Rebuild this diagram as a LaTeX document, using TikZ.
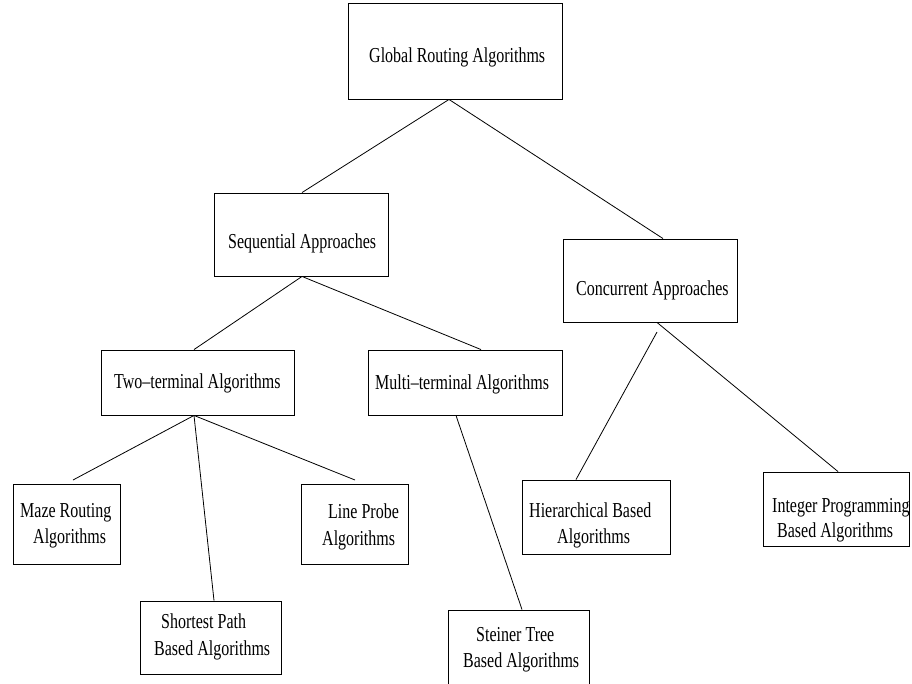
\documentclass[tikz,border=0pt]{standalone}
\usepackage{fontspec}
\setmainfont{Liberation Serif}
\usepackage{graphicx}
% vertically stretched text, as in the printed chart
\newcommand\tall[1]{\scalebox{1}[1.33]{#1}}
\begin{document}
\begin{tikzpicture}[x=1pt,y=-1pt,
  box/.style={draw, line width=0.9pt, rectangle, inner sep=0pt},
  txt/.style={anchor=base west, inner sep=0pt, font=\fontsize{16}{19}\selectfont},
  link/.style={line width=0.8pt}]
\useasboundingbox (0,0) rectangle (912,683);
\fill[white] (0,0) rectangle (912,683);
\clip (0,0) rectangle (912,683);

% boxes
\node[box, minimum width=214pt, minimum height=96pt] (glob)  at (455,51) {};
\node[box, minimum width=174pt, minimum height=83pt] (seq)   at (301,234.5) {};
\node[box, minimum width=174pt, minimum height=83pt] (conc)  at (650,280.5) {};
\node[box, minimum width=193pt, minimum height=65pt] (two)   at (197.5,382.5) {};
\node[box, minimum width=194pt, minimum height=65pt] (multi) at (465,382.5) {};
\node[box, minimum width=107pt, minimum height=80pt] (maze)  at (66.5,524) {};
\node[box, minimum width=141pt, minimum height=73pt] (short) at (210.5,637.5) {};
\node[box, minimum width=107pt, minimum height=80pt] (probe) at (354.5,524) {};
\node[box, minimum width=141pt, minimum height=80pt] (stein) at (518.5,650) {};
\node[box, minimum width=148pt, minimum height=74pt] (hier)  at (596,517) {};
\node[box, minimum width=146pt, minimum height=74pt] (integ) at (836,509) {};

% labels
\node[txt] (globT)   at (369,62)  {\tall{Global Routing Algorithms}};
\node[txt] (seqT)    at (228,248) {\tall{Sequential Approaches}};
\node[txt] (concT)   at (576,295) {\tall{Concurrent Approaches}};
\node[txt] (twoT)    at (114,388) {\tall{Two--terminal Algorithms}};
\node[txt] (multiT)  at (375,389) {\tall{Multi--terminal Algorithms}};
\node[txt] (mazeA)   at (20,517)  {\tall{Maze Routing}};
\node[txt] (mazeB)   at (33,543)  {\tall{Algorithms}};
\node[txt] (shortA)  at (161,628) {\tall{Shortest Path}};
\node[txt] (shortB)  at (154,655) {\tall{Based Algorithms}};
\node[txt] (probeA)  at (328,518) {\tall{Line Probe}};
\node[txt] (probeB)  at (322,545) {\tall{Algorithms}};
\node[txt] (steinA)  at (476,641) {\tall{Steiner Tree}};
\node[txt] (steinB)  at (463,667) {\tall{Based Algorithms}};
\node[txt] (hierA)   at (529,517) {\tall{Hierarchical Based}};
\node[txt] (hierB)   at (557,543) {\tall{Algorithms}};
\node[txt] (integA)  at (772,512) {\tall{Integer Programming}};
\node[txt] (integB)  at (777,537) {\tall{Based Algorithms}};

% loose connector ends
\coordinate (mazeEnd)  at (73,480);
\coordinate (probeEnd) at (355,480);
\coordinate (hierFrom) at (657,332);

% connectors
\draw[link] ([xshift=-6pt]glob.south) -- ([xshift=1pt]seq.north);
\draw[link] ([xshift=-6pt]glob.south) -- ([xshift=13pt]conc.north);
\draw[link] ([xshift=1pt]seq.south) -- ([xshift=-3.5pt]two.north);
\draw[link] ([xshift=1pt]seq.south) -- ([xshift=16pt]multi.north);
\draw[link] ([xshift=-3.5pt]two.south) -- (mazeEnd);
\draw[link] ([xshift=-3.5pt]two.south) -- ([xshift=3.5pt]short.north);
\draw[link] ([xshift=-3.5pt]two.south) -- (probeEnd);
\draw[link] ([xshift=-9pt]multi.south) -- ([xshift=3.5pt]stein.north);
\draw[link] (hierFrom) -- ([xshift=-20pt]hier.north);
\draw[link] ([xshift=7pt]conc.south) -- ([xshift=2pt]integ.north);
\end{tikzpicture}
\end{document}
